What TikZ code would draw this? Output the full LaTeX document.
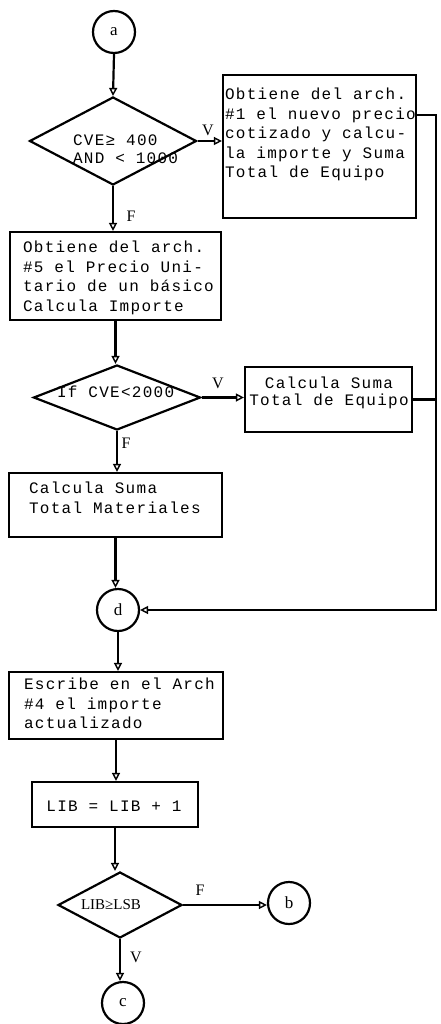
\documentclass[tikz,border=0pt]{standalone}
\usepackage{fontspec}
\usetikzlibrary{shapes.geometric,arrows.meta}
\newfontfamily\typefont[LetterSpace=8]{Liberation Mono}
\newfontfamily\labelfont{Liberation Serif}

\begin{document}
\begin{tikzpicture}[x=1pt,y=-1pt,
  line width=2.2pt,
  arr/.style={-{Triangle[open,length=8pt,width=8pt,line width=1.4pt]}},
  proc/.style={draw, rectangle, inner sep=0pt},
  dec/.style={draw, diamond, inner sep=0pt},
  conn/.style={draw, circle, inner sep=0pt, minimum size=42pt,
    font=\labelfont\fontsize{17}{19}\selectfont},
  txt/.style={inner sep=0pt, align=left,
    font=\typefont\fontsize{16}{19.5}\selectfont},
  ctxt/.style={inner sep=0pt, align=center,
    font=\typefont\fontsize{16}{17}\selectfont},
  dtxt/.style={inner sep=0pt, align=left,
    font=\typefont\fontsize{16}{18}\selectfont},
  lbl/.style={inner sep=0pt, font=\labelfont\fontsize{16}{18}\selectfont}
]
\fill[white] (0,0) rectangle (440,1024);
\useasboundingbox (0,0) rectangle (440,1024);

% connectors (circles)
\node[conn] (ca) at (114,32) {a};
\node[conn] (cd) at (118,610) {d};
\node[conn] (cb) at (289,903) {b};
\node[conn] (cc) at (123,1003) {c};

% decisions
\node[dec, minimum width=167pt, minimum height=88pt] (d1) at (113,141) {};
\node[dec, minimum width=167pt, minimum height=65pt] (d2) at (117,397.5) {};
\node[dec, minimum width=124pt, minimum height=66pt] (d3) at (120,905) {};

% process boxes
\node[proc, minimum width=193pt, minimum height=143pt] (b1) at (319.5,146.5) {};
\node[proc, minimum width=211pt, minimum height=88pt] (b2) at (115.5,276) {};
\node[proc, minimum width=167pt, minimum height=65pt] (b3) at (328.5,399.5) {};
\node[proc, minimum width=213pt, minimum height=64pt] (b4) at (115.5,505) {};
\node[proc, minimum width=214pt, minimum height=67pt] (b5) at (116,705.5) {};
\node[proc, minimum width=166pt, minimum height=45pt] (b6) at (115,804.5) {};

% texts
\node[dtxt, anchor=north west] (td1) at (72,134) {CVE≥ 400\\AND < 1000};
\node[dtxt, anchor=north west] (td2) at (56,385) {If CVE<2000};
\node[lbl, font=\labelfont\fontsize{15}{17}\selectfont] (td3) at (111,905) {LIB≥LSB};
\node[txt, anchor=north west] (tb1) at (224,87)
  {Obtiene del arch.\\\#1 el nuevo precio\\cotizado y calcu-\\la importe y Suma\\Total de Equipo};
\node[txt, anchor=north west] (tb2) at (22,240)
  {Obtiene del arch.\\\#5 el Precio Uni-\\tario de un básico\\Calcula Importe};
\node[ctxt, anchor=north] (tb3) at (329,376) {Calcula Suma\\Total de Equipo};
\node[txt, anchor=north west] (tb4) at (28,481) {Calcula Suma\\Total Materiales};
\node[txt, anchor=north west] (tb5) at (23,677)
  {Escribe en el Arch\\\#4 el importe\\actualizado};
\node[ctxt] (tb6) at (114,806) {LIB = LIB + 1};

% branch labels
\node[lbl] (lv1) at (208,130) {V};
\node[lbl] (lf1) at (131,216) {F};
\node[lbl] (lv2) at (218,383) {V};
\node[lbl] (lf2) at (126,443) {F};
\node[lbl] (lf3) at (200,890) {F};
\node[lbl] (lv3) at (136,957) {V};

% flow
\draw[arr] (ca.south) -- (d1.north);
\draw[arr] (d1.east) -- (d1.east -| b1.west);
\draw[arr] (d1.south) -- (d1.south |- b2.north);
\draw[arr] (b2.south) -- (b2.south |- d2.north);
\draw[arr] (d2.east) -- (d2.east -| b3.west);
\draw[arr] (d2.south) -- (d2.south |- b4.north);
\draw[arr] (b4.south) -- (b4.south |- cd.north);
\draw[arr] (cd.south) -- (cd.south |- b5.north);
\draw[arr] (b5.south) -- (b5.south |- b6.north);
\draw[arr] (b6.south) -- (b6.south |- d3.north);
\draw[arr] (d3.east) -- (d3.east -| cb.west);
\draw[arr] (d3.south) -- (d3.south |- cc.north);

% return rail to d
\coordinate (j1) at (436,115);
\draw[arr] (b1.east |- j1) -- (j1) -- (j1 |- cd.east) -- (cd.east);
\draw (b3.east) -- (b3.east -| j1);
\end{tikzpicture}
\end{document}
